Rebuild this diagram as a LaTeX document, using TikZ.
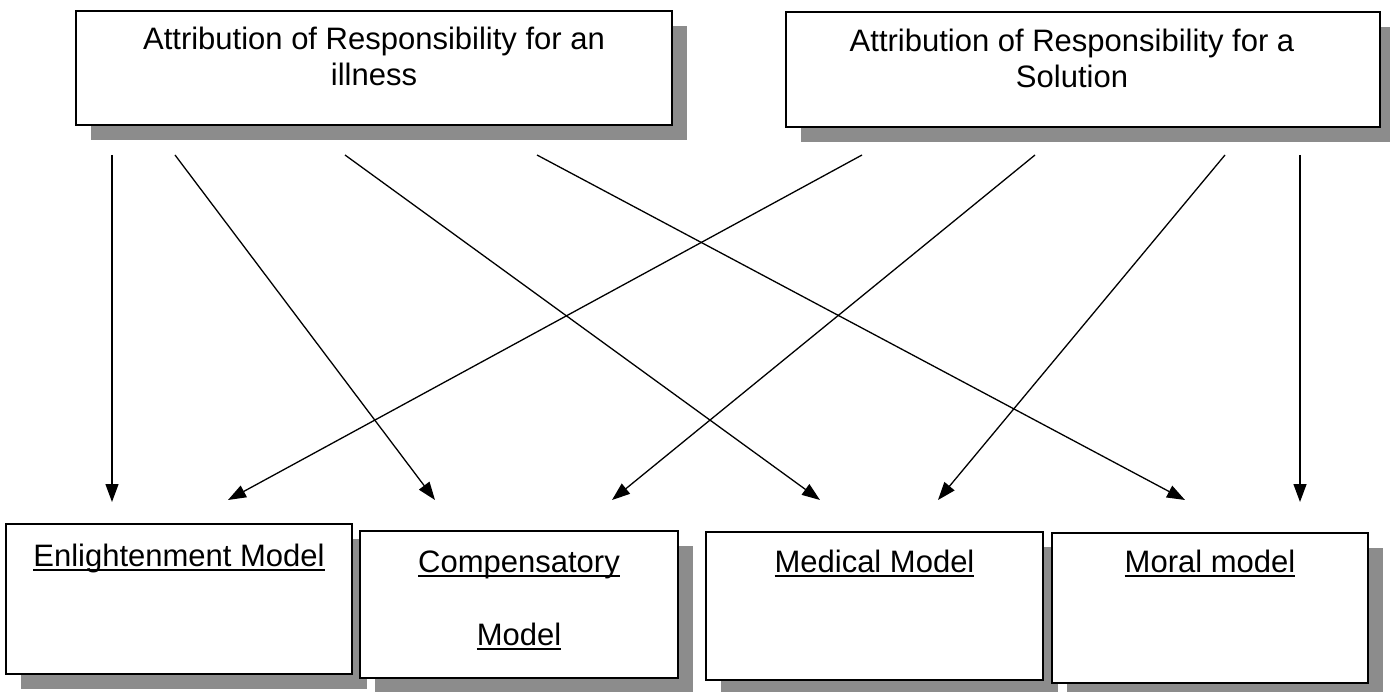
\documentclass[tikz,border=0pt]{standalone}
\usepackage{fontspec}
\setmainfont{Liberation Sans}
\usetikzlibrary{arrows.meta,shadows}
\newcommand{\ulmark}[1]{\setbox0\hbox{#1}\rlap{\rule[-5pt]{\wd0}{1.6pt}}\box0}
\begin{document}
\begin{tikzpicture}[x=1pt,y=-1pt]

    \tikzset{
      frame/.style={
        draw,
        line width=2pt,
        fill=white,
        inner sep=0pt,
        general shadow={fill=black!45, shadow xshift=15pt, shadow yshift=-15pt},
      },
      caption/.style={
        anchor=base,
        inner sep=0pt,
        font=\fontsize{31}{36}\selectfont,
      },
      link/.style={
        line width=1.3pt,
        -{Triangle[length=18pt,width=13pt]},
      },
    }
    \useasboundingbox (0,0) rectangle (1390,692);

	\node[frame,minimum width=596pt,minimum height=114pt] (ill) at (374,68) {};
	\node[frame,minimum width=594pt,minimum height=115pt] (sol) at (1083,69.5) {};
	\node[caption] (illt) at (374,50) {Attribution of Responsibility for an};
	\node[caption] (illt2) at (374,86) {illness};
	\node[caption] (solt) at (1072,52) {Attribution of Responsibility for a};
	\node[caption] (solt2) at (1072,88) {Solution};

	\node[frame,minimum width=346pt,minimum height=150pt] (enl) at (179,599) {};
	\node[frame,minimum width=318pt,minimum height=147pt] (comp) at (519,604.5) {};
	\node[frame,minimum width=337pt,minimum height=148pt] (med) at (874.5,606) {};
	\node[frame,minimum width=316pt,minimum height=150pt] (mor) at (1210,608) {};
	\node[caption] (enlt) at (179,566) {\ulmark{Enlightenment Model}};
	\node[caption] (compt) at (519,572) {\ulmark{Compensatory}};
	\node[caption] (compm) at (519,645) {\ulmark{Model}};
	\node[caption] (medt) at (874.5,572) {\ulmark{Medical Model}};
	\node[caption] (mort) at (1210,572) {\ulmark{Moral model}};

	\coordinate (s1) at (112,155);
	\coordinate (s2) at (175,155);
	\coordinate (s3) at (345,155);
	\coordinate (s4) at (537,155);
	\coordinate (s5) at (862,155);
	\coordinate (s6) at (1035,155);
	\coordinate (s7) at (1225,155);
	\coordinate (s8) at (1300,155);
	\coordinate (e1) at (112,502);
	\coordinate (e2) at (435,500);
	\coordinate (e3) at (820,500);
	\coordinate (e4) at (1185,500);
	\coordinate (e5) at (228,500);
	\coordinate (e6) at (612,500);
	\coordinate (e7) at (938,500);
	\coordinate (e8) at (1300,502);
	\draw[link] (s1)--(e1);
	\draw[link] (s2)--(e2);
	\draw[link] (s3)--(e3);
	\draw[link] (s4)--(e4);
	\draw[link] (s5)--(e5);
	\draw[link] (s6)--(e6);
	\draw[link] (s7)--(e7);
	\draw[link] (s8)--(e8);

\end{tikzpicture}
\end{document}
